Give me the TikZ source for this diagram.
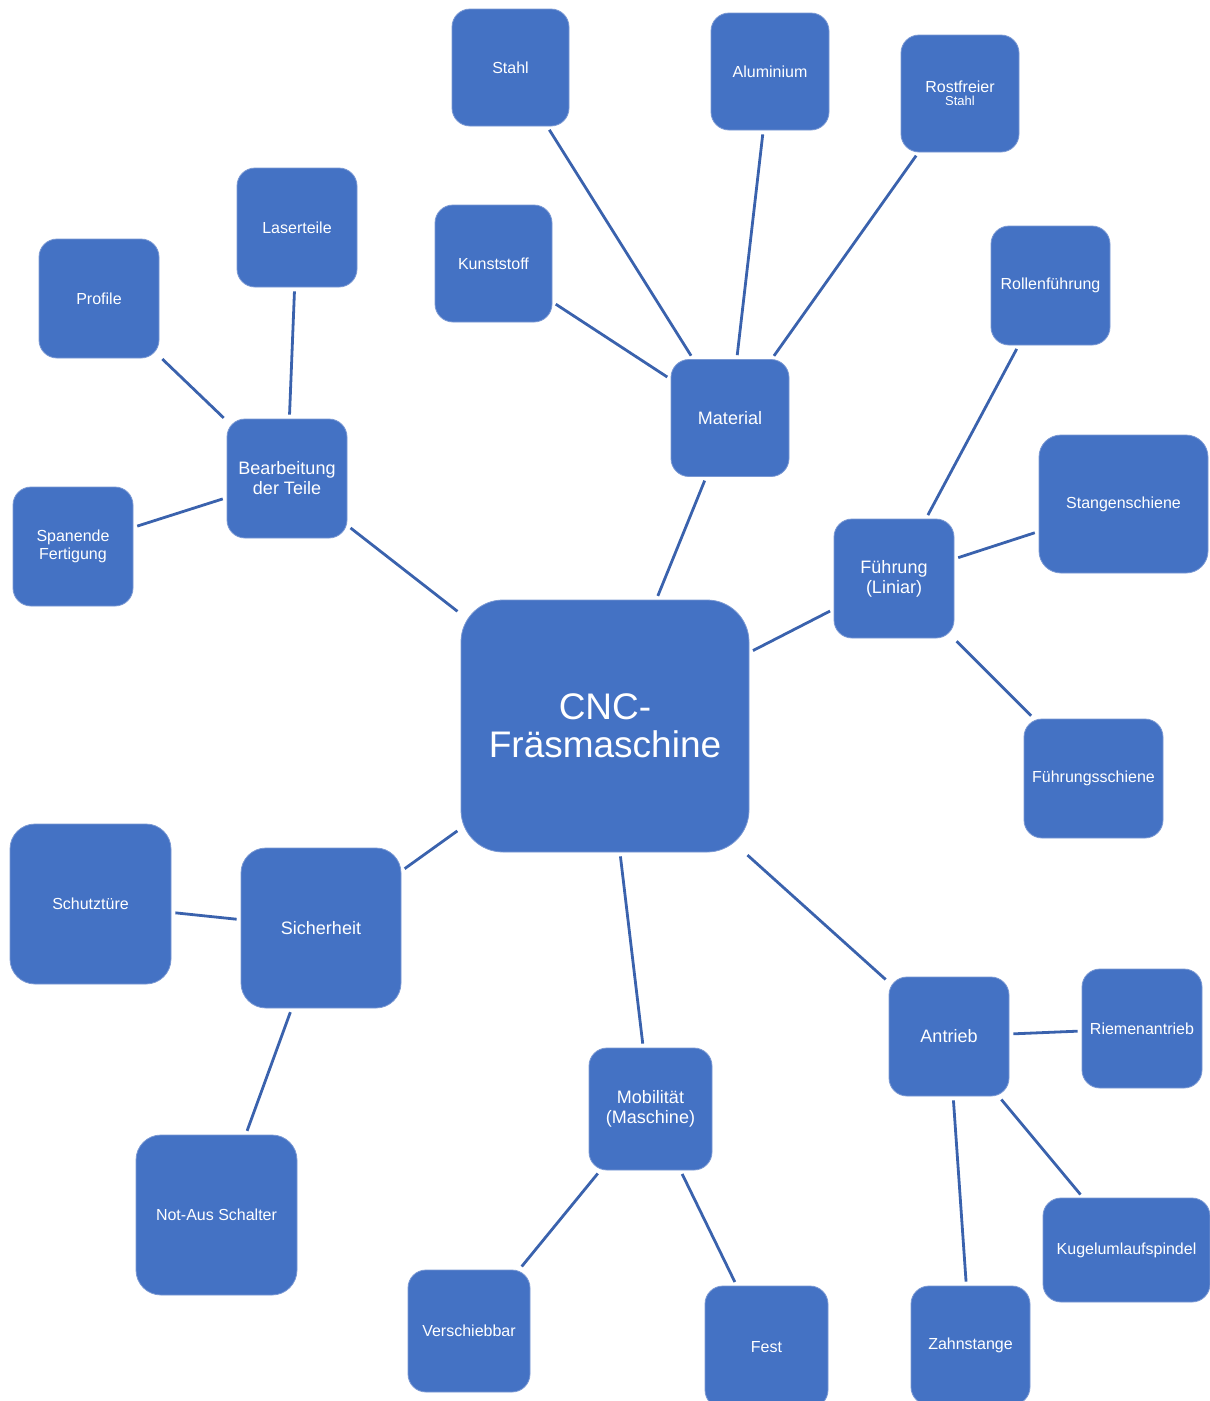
\documentclass[tikz,border=0pt]{standalone}
\usepackage{fontspec}
\setmainfont{Liberation Sans}
\usetikzlibrary{positioning}
\definecolor{boxfill}{HTML}{4472C4}
\definecolor{boxedge}{HTML}{7A98D3}
\definecolor{linkcol}{HTML}{3A62AD}
\newcommand{\fsmall}{\fontsize{16}{17.5}\selectfont}
\newcommand{\fmid}{\fontsize{18}{20}\selectfont}
\newcommand{\fbig}{\fontsize{37}{38}\selectfont}
\tikzset{
  box/.style={rectangle,fill=boxfill,draw=boxedge,line width=.8pt,text=white,
    align=center,inner sep=0pt,rounded corners=18pt,font=\fsmall},
  hub/.style={box,font=\fmid},
  link/.style={draw=linkcol,line width=2.8pt,shorten <=4pt,shorten >=4pt},
  sz/.style 2 args={minimum width=#1pt,minimum height=#2pt}}

\begin{document}
\begin{tikzpicture}[x=1pt,y=-1pt]
\clip (0,0) rectangle (1210,1401);
% centre
\node[box,font=\fbig,sz={288}{252},rounded corners=42pt] (cnc) at (605,726) {CNC-\\Fräsmaschine};
% Material
\node[hub,sz={118}{117}] (mat) at (730,418) {Material};
\node[box,sz={117}{117}] (stahl) at (510.5,67.5) {Stahl};
\node[box,sz={118}{117}] (alu) at (770,71.5) {Aluminium};
\node[box,sz={118}{117}] (rost) at (960,93.5) {Rostfreier\\[-4.5pt]\fontsize{13}{13}\selectfont Stahl};
\node[box,sz={117}{117}] (kunst) at (493.5,263.5) {Kunststoff};
% Bearbeitung
\node[hub,sz={120}{119}] (bearb) at (287,478.5) {Bearbeitung\\der Teile};
\node[box,sz={120}{119}] (laser) at (297,227.5) {Laserteile};
\node[box,sz={120}{119}] (profil) at (99,298.5) {Profile};
\node[box,sz={120}{119}] (span) at (73,546.5) {Spanende\\Fertigung};
% Fuehrung
\node[hub,sz={120}{119}] (fuehr) at (894,578.5) {Führung\\(Liniar)};
\node[box,sz={119}{119}] (rollen) at (1050.5,285.5) {Rollenführung};
\node[box,sz={169}{138},rounded corners=22pt] (stangen) at (1123.5,504) {Stangenschiene};
\node[box,sz={139}{119}] (fschiene) at (1093.5,778.5) {Führungsschiene};
% Sicherheit
\node[hub,sz={160}{160},rounded corners=25pt] (sicher) at (321,928) {Sicherheit};
\node[box,sz={161}{160},rounded corners=25pt] (schutz) at (90.5,904) {Schutztüre};
\node[box,sz={161}{160},rounded corners=25pt] (notaus) at (216.5,1215) {Not-Aus Schalter};
% Mobilitaet
\node[hub,sz={123}{122}] (mobil) at (650.5,1109) {Mobilität\\(Maschine)};
\node[box,sz={122}{122}] (versch) at (469,1331) {Verschiebbar};
\node[box,sz={123}{122}] (fest) at (766.5,1347) {Fest};
% Antrieb
\node[hub,sz={120}{119}] (antrieb) at (949,1036.5) {Antrieb};
\node[box,sz={120}{119}] (riemen) at (1142,1028.5) {Riemenantrieb};
\node[box,sz={167}{104}] (kugel) at (1126.5,1250) {Kugelumlaufspindel};
\node[box,sz={119}{119}] (zahn) at (970.5,1345.5) {Zahnstange};
% connectors
\foreach \a/\b in {cnc/mat,mat/stahl,mat/alu,mat/rost,mat/kunst,
  cnc/bearb,bearb/laser,bearb/profil,bearb/span,
  cnc/fuehr,fuehr/rollen,fuehr/stangen,fuehr/fschiene,
  cnc/sicher,sicher/schutz,sicher/notaus,
  cnc/mobil,mobil/versch,mobil/fest,
  cnc/antrieb,antrieb/riemen,antrieb/kugel,antrieb/zahn}
  \draw[link] (\a) -- (\b);
\end{tikzpicture}
\end{document}
